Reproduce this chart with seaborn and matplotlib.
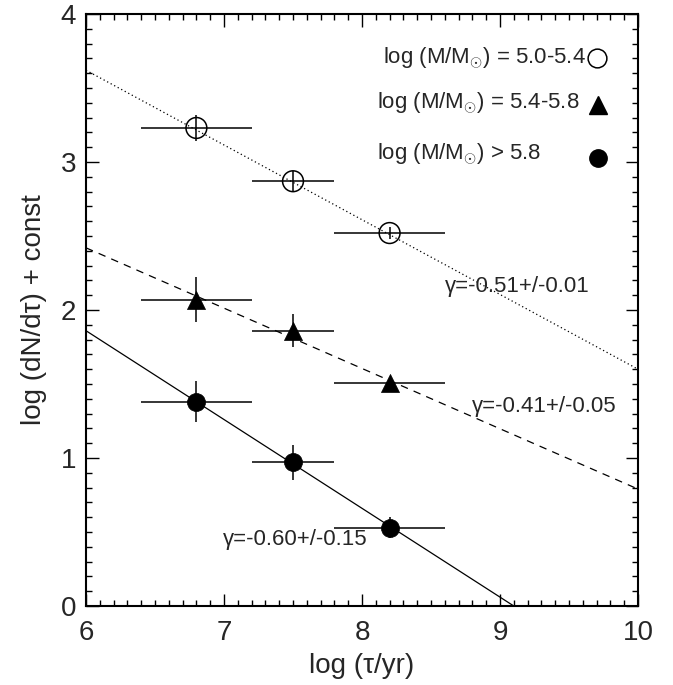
import numpy as np
import pandas as pd
import matplotlib
matplotlib.use("Agg")
import matplotlib.pyplot as plt
import seaborn as sns
from matplotlib.ticker import MultipleLocator

# ---- data ----
log_age = [6.8, 7.5, 8.2]
age_lo = [6.4, 7.2, 7.8]
age_hi = [7.2, 7.8, 8.6]

y_low = [3.23, 2.87, 2.52]
err_low = [0.09, 0.07, 0.04]
y_mid = [2.07, 1.86, 1.51]
err_mid = [0.15, 0.11, 0.03]
y_high = [1.38, 0.97, 0.53]
err_high = [0.14, 0.12, 0.07]

fit_x = [6.0, 10.0]
fit_low = [3.62, 1.60]
fit_mid = [2.42, 0.79]
fit_high = [1.86, -0.54]

legend_labels = [r"log (M/M$_{\odot}$) = 5.0-5.4",
                 r"log (M/M$_{\odot}$) = 5.4-5.8",
                 r"log (M/M$_{\odot}$) > 5.8"]
gamma_labels = ["γ=-0.51+/-0.01", "γ=-0.41+/-0.05", "γ=-0.60+/-0.15"]
x_ticks = [6, 7, 8, 9, 10]
y_ticks = [0, 1, 2, 3, 4]

sns.set_theme(style="ticks")
plt.rcParams["font.family"] = ["Liberation Sans", "DejaVu Sans"]
plt.rcParams["mathtext.fontset"] = "custom"
plt.rcParams["mathtext.rm"] = "Liberation Sans"

fig = plt.figure(figsize=(6.73, 6.85), dpi=100)
W, H = 673, 685
L, R, T, B = 86, 638, 14, 606
ax = fig.add_axes([L / W, 1 - B / H, (R - L) / W, (B - T) / H])

xerr = [np.array(log_age) - np.array(age_lo), np.array(age_hi) - np.array(log_age)]

df_fit = pd.DataFrame({"x": fit_x * 3,
                       "y": fit_low + fit_mid + fit_high,
                       "grp": ["low"] * 2 + ["mid"] * 2 + ["high"] * 2})
for grp, ls in [("low", (0, (1, 2.2))), ("mid", (0, (6, 5))), ("high", "-")]:
    sns.lineplot(data=df_fit[df_fit.grp == grp], x="x", y="y", ax=ax,
                 color="black", lw=0.9, linestyle=ls, legend=False)

for yv, ev in [(y_low, err_low), (y_mid, err_mid), (y_high, err_high)]:
    ax.errorbar(log_age, yv, xerr=xerr, yerr=ev, fmt="none",
                ecolor="black", elinewidth=1.1, capsize=0, zorder=2)

df = pd.DataFrame({"x": log_age * 3, "y": y_low + y_mid + y_high,
                   "grp": ["low"] * 3 + ["mid"] * 3 + ["high"] * 3})
sns.scatterplot(data=df[df.grp == "low"], x="x", y="y", ax=ax, marker="o",
                s=15 ** 2, facecolor="none", edgecolor="black", linewidth=1.1, zorder=3)
sns.scatterplot(data=df[df.grp == "mid"], x="x", y="y", ax=ax, marker="^",
                s=13 ** 2, color="black", edgecolor="black", linewidth=0.5, zorder=3)
sns.scatterplot(data=df[df.grp == "high"], x="x", y="y", ax=ax, marker="o",
                s=13 ** 2, color="black", edgecolor="black", linewidth=0.5, zorder=3)

# legend (manual, as in the reference)
fs_small = 16
ax.text(8.152, 3.70, legend_labels[0], fontsize=fs_small, va="center", ha="left")
ax.text(8.109, 3.40, legend_labels[1], fontsize=fs_small, va="center", ha="left")
ax.text(8.109, 3.05, legend_labels[2], fontsize=fs_small, va="center", ha="left")
ax.plot([9.703], [3.70], marker="o", ms=13.5, mfc="none", mec="black", mew=1.1)
ax.plot([9.71], [3.385], marker="^", ms=12.5, color="black")
ax.plot([9.71], [3.03], marker="o", ms=12.5, color="black")

ax.text(8.60, 2.157, gamma_labels[0], fontsize=fs_small, va="center", ha="left")
ax.text(8.795, 1.347, gamma_labels[1], fontsize=fs_small, va="center", ha="left")
ax.text(6.993, 0.446, gamma_labels[2], fontsize=fs_small, va="center", ha="left")

ax.set_xlim(6, 10)
ax.set_ylim(0, 4)
ax.set_xticks(x_ticks)
ax.set_yticks(y_ticks)
ax.set_xticklabels([str(v) for v in x_ticks])
ax.set_yticklabels([str(v) for v in y_ticks])
ax.xaxis.set_minor_locator(MultipleLocator(0.1))
ax.yaxis.set_minor_locator(MultipleLocator(0.1))
ax.tick_params(which="both", direction="in", top=True, right=True,
               color="black", width=1.0, labelsize=20)
ax.tick_params(which="major", length=9)
ax.tick_params(which="minor", length=4.5)
ax.tick_params(axis="x", which="major", pad=10)
ax.tick_params(axis="y", which="major", pad=7)
for sp in ax.spines.values():
    sp.set_linewidth(1.5)
    sp.set_color("black")
ax.set_xlabel("log (τ/yr)", fontsize=20, labelpad=5)
ax.set_ylabel("log (dN/dτ) + const", fontsize=20, labelpad=10)

fig.savefig("out.png", dpi=100, facecolor="white")
